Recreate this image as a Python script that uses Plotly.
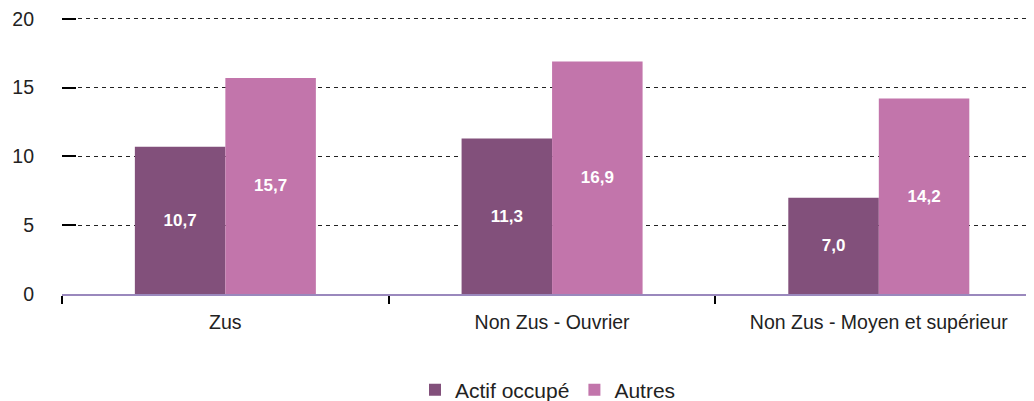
import plotly.graph_objects as go

categories = ["Zus", "Non Zus - Ouvrier", "Non Zus - Moyen et supérieur"]
actif_occupe = [10.7, 11.3, 7.0]
autres = [15.7, 16.9, 14.2]

label_font = dict(color="white", size=17, family="Liberation Sans", weight="bold")

fig = go.Figure()
fig.add_trace(go.Bar(
    x=categories, y=actif_occupe, name="Actif occupé",
    marker_color="#82507b", marker_line_width=0,
    texttemplate="%{y:.1f}", textposition="inside", insidetextanchor="middle",
    textfont=label_font,
))
fig.add_trace(go.Bar(
    x=categories, y=autres, name="Autres",
    marker_color="#c275ab", marker_line_width=0,
    texttemplate="%{y:.1f}", textposition="inside", insidetextanchor="middle",
    textfont=label_font,
))

# page body adds an 8px offset, so the figure is 8px smaller than the window
fig.update_layout(
    width=1026,
    height=393,
    barmode="group",
    bargap=0.446,
    bargroupgap=0,
    separators=", ",
    plot_bgcolor="white",
    paper_bgcolor="white",
    font=dict(family="Liberation Sans", size=19.5, color="#222222"),
    margin=dict(l=54, r=0, t=8, b=107, autoexpand=False),
    uniformtext=dict(mode="show", minsize=17),
    legend=dict(
        orientation="h",
        x=0.5, xanchor="center", xref="paper",
        y=0.028, yanchor="middle", yref="container",
        font=dict(size=21, color="#222222"),
        itemwidth=30,
        tracegroupgap=0,
    ),
    xaxis=dict(
        range=[-0.5, 2.475],
        automargin=False,
        showline=True, linecolor="#9a88bd", linewidth=2,
        ticks="outside", tickson="boundaries", ticklen=8, tickwidth=2, tickcolor="black",
        showgrid=False,
        ticklabelstandoff=10,
    ),
    yaxis=dict(
        range=[0, 20.2],
        automargin=False,
        tickvals=[0, 5, 10, 15, 20],
        showgrid=True, gridcolor="#222222", gridwidth=1, griddash="4px,4px",
        zeroline=False,
        ticks="inside", ticklen=14, tickwidth=2, tickcolor="black",
        ticklabelstandoff=27,
        ticklabeloverflow="allow",
        showline=False,
    ),
)

fig.write_html("out.html")
